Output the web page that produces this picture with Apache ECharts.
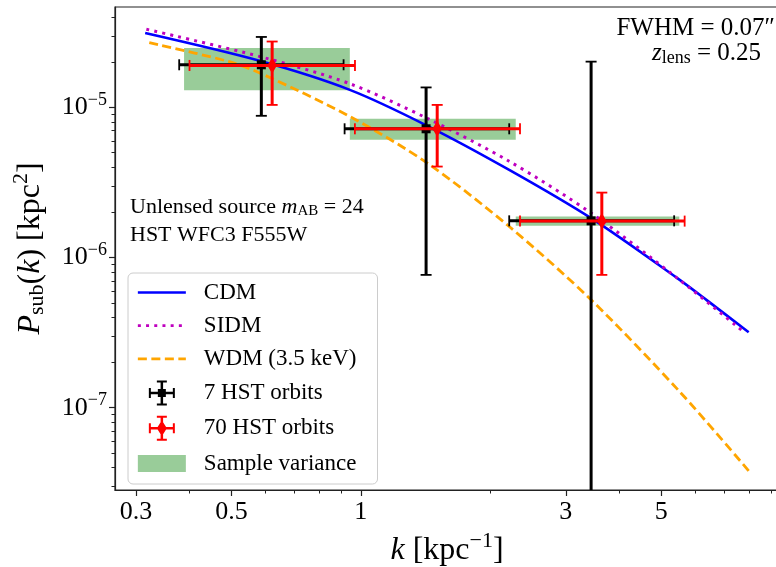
<!DOCTYPE html>
<html><head><meta charset="utf-8">
<script src="https://cdn.jsdelivr.net/npm/echarts@6/dist/echarts.min.js"></script>
<style>html,body{margin:0;padding:0;background:#fff}#c{width:776px;height:567px}</style>
</head><body><div id="c"></div><script>
// ---------- data ----------
const cdmK = [0.315, 0.587, 0.943, 1.428, 2.215, 3.435, 5.45, 6.37, 7.99];
const cdmP = [3.13e-5, 2.03e-5, 1.31e-5, 7.55e-6, 3.84e-6, 1.83e-6, 7.30e-7, 5.23e-7, 3.18e-7];
const sidmK = [0.317, 0.587, 0.943, 1.428, 2.215, 3.435, 5.45, 7.78];
const sidmP = [3.32e-5, 2.17e-5, 1.44e-5, 8.46e-6, 4.38e-6, 1.98e-6, 7.30e-7, 3.2e-7];
const wdmK = [0.322, 0.494, 0.587, 0.943, 1.428, 2.215, 3.435, 5.52, 7.99];
const wdmP = [2.70e-5, 2.02e-5, 1.68e-5, 8.71e-6, 4.26e-6, 1.61e-6, 5.23e-7, 1.28e-7, 3.80e-8];

// 7 HST orbits (black)
const hst7K = [0.587, 1.419, 3.435];
const hst7P = [1.925e-5, 7.21e-6, 1.757e-6];
const hst7KLo = [0.378, 0.917, 2.215];
const hst7KHi = [0.912, 2.215, 5.36];
const hst7PLo = [8.8e-6, 7.67e-7, 1e-9];
const hst7PHi = [2.95e-5, 1.36e-5, 2.02e-5];
// 70 HST orbits (red)
const hst70K = [0.622, 1.506, 3.638];
const hst70P = [1.905e-5, 7.21e-6, 1.75e-6];
const hst70KLo = [0.3995, 0.969, 2.347];
const hst70KHi = [0.9694, 2.347, 5.67];
const hst70PLo = [1.04e-5, 4.04e-6, 7.67e-7];
const hst70PHi = [2.75e-5, 1.04e-5, 2.71e-6];
// sample variance boxes
const svKLo = [0.388, 0.943, 2.294];
const svKHi = [0.943, 2.294, 5.51];
const svPLo = [1.30e-5, 6.09e-6, 1.627e-6];
const svPHi = [2.49e-5, 8.41e-6, 1.877e-6];

// ticks
const xMajorTicks = [0.3, 0.5, 1, 3, 5];
const xMinorTicks = [0.4, 0.6, 0.7, 0.8, 0.9, 2, 4, 6, 7, 8, 9];
const yMajorTicks = [1e-7, 1e-6, 1e-5];
const yMinorTicks = [3e-8, 4e-8, 5e-8, 6e-8, 7e-8, 8e-8, 9e-8,
  2e-7, 3e-7, 4e-7, 5e-7, 6e-7, 7e-7, 8e-7, 9e-7,
  2e-6, 3e-6, 4e-6, 5e-6, 6e-6, 7e-6, 8e-6, 9e-6,
  2e-5, 3e-5, 4e-5];
const xRange = [0.268, 9.4];
const yRange = [2.83e-8, 4.67e-5];

// ---------- chart ----------
const FONT = 'Liberation Serif';
const AX = '#222';
const pairs = (a, b) => a.map((v, i) => [v, b[i]]);
const rows = (...cols) => cols[0].map((_, i) => cols.map(c => c[i]));

function errRender(color, marker) {
  return function (params, api) {
    const cs = params.coordSys;
    const top = cs.y, bot = cs.y + cs.height;
    const x = api.value(0), y = api.value(1);
    const c = api.coord([x, y]);
    const xl = api.coord([api.value(2), y])[0];
    const xh = api.coord([api.value(3), y])[0];
    let yl = api.coord([x, api.value(4)])[1];
    let yh = api.coord([x, api.value(5)])[1];
    const lowClip = !(yl <= bot);
    if (lowClip) yl = bot;
    if (yh < top) yh = top;
    const lw = 3, cap = 5.5, cw = 1.8;
    const st = { stroke: color, lineWidth: lw };
    const cst = { stroke: color, lineWidth: cw };
    const ch = [
      { type: 'line', shape: { x1: xl, y1: c[1], x2: xh, y2: c[1] }, style: st },
      { type: 'line', shape: { x1: c[0], y1: yh, x2: c[0], y2: yl }, style: st },
      { type: 'line', shape: { x1: xl, y1: c[1] - cap, x2: xl, y2: c[1] + cap }, style: cst },
      { type: 'line', shape: { x1: xh, y1: c[1] - cap, x2: xh, y2: c[1] + cap }, style: cst },
      { type: 'line', shape: { x1: c[0] - cap, y1: yh, x2: c[0] + cap, y2: yh }, style: cst }
    ];
    if (!lowClip) ch.push({ type: 'line', shape: { x1: c[0] - cap, y1: yl, x2: c[0] + cap, y2: yl }, style: cst });
    if (marker === 'square') {
      ch.push({ type: 'rect', shape: { x: c[0] - 4.5, y: c[1] - 4.5, width: 9, height: 9 }, style: { fill: color } });
    } else {
      ch.push({ type: 'polygon', shape: { points: [[c[0], c[1] - 8], [c[0] + 4.8, c[1]], [c[0], c[1] + 8], [c[0] - 4.8, c[1]]] }, style: { fill: color } });
    }
    return { type: 'group', children: ch };
  };
}

function boxRender(params, api) {
  const p1 = api.coord([api.value(0), api.value(3)]);
  const p2 = api.coord([api.value(1), api.value(2)]);
  return { type: 'rect', shape: { x: p1[0], y: p1[1], width: p2[0] - p1[0], height: p2[1] - p1[1] }, style: { fill: '#99cc99' } };
}

const corners = 'M0,0h0.01v0.01h-0.01Z M47.99,24.99h0.01v0.01h-0.01Z ';
const iconCross = 'M11,11.25h26v2.5h-26Z M22.75,0h2.5v25h-2.5Z M11,7.5h2v10h-2Z M35,7.5h2v10h-2Z M19,0h10v2h-10Z M19,23h10v2h-10Z ';
const iconBlack = 'path://' + corners + iconCross + 'M20,8.5h8v8h-8Z';
const iconRed = 'path://' + corners + iconCross + 'M24,4.5L29,12.5L24,20.5L19,12.5Z';
const iconBox = 'path://' + corners + 'M0,4h48v17h-48Z';

function titleRich(fs) {
  const sfs = Math.round(fs * 0.7);
  return {
    n: { fontFamily: FONT, fontSize: fs, color: '#000' },
    i: { fontFamily: FONT, fontSize: fs, fontStyle: 'italic', color: '#000' },
    sub: { fontFamily: FONT, fontSize: sfs, color: '#000', padding: [Math.round(fs * 0.45), 0, 0, 0] },
    sup: { fontFamily: FONT, fontSize: sfs, color: '#000', padding: [0, 0, Math.round(fs * 0.58), 0] }
  };
}

const chart = echarts.init(document.getElementById('c'));
chart.setOption({
  animation: false,
  backgroundColor: '#fff',
  grid: { left: 115, top: 7, width: 664, height: 483, show: true, borderColor: AX, borderWidth: 1.2,
    backgroundColor: 'transparent', containLabel: false, outerBoundsMode: 'none' },
  xAxis: [
    {
      type: 'log', logBase: 10, min: xRange[0], max: xRange[1], position: 'bottom',
      splitLine: { show: false },
      axisLine: { show: true, lineStyle: { color: AX, width: 1.2 } },
      axisTick: { show: true, customValues: xMajorTicks, length: 6, lineStyle: { color: AX, width: 1.2 } },
      axisLabel: {
        customValues: xMajorTicks, margin: 9, fontFamily: FONT, fontSize: 26, color: '#000',
        formatter: v => String(+(+v).toPrecision(3))
      },
      name: '{i|k}{n| [kpc}{sup|−1}{n|]}', nameLocation: 'middle', nameGap: 38,
      nameTextStyle: { fontFamily: FONT, fontSize: 32, rich: titleRich(32) }
    },
    {
      type: 'log', logBase: 10, min: xRange[0], max: xRange[1], position: 'bottom',
      splitLine: { show: false }, axisLine: { show: false },
      axisTick: { show: true, customValues: xMinorTicks, length: 3.5, lineStyle: { color: AX, width: 1 } },
      axisLabel: { show: false }
    }
  ],
  yAxis: [
    {
      type: 'log', logBase: 10, min: yRange[0], max: yRange[1], position: 'left',
      splitLine: { show: false },
      axisLine: { show: true, lineStyle: { color: AX, width: 1.2 } },
      axisTick: { show: true, customValues: yMajorTicks, length: 6, lineStyle: { color: AX, width: 1.2 } },
      axisLabel: {
        customValues: yMajorTicks, margin: 8,
        formatter: v => '{b|10}{s|−' + Math.abs(Math.round(Math.log10(v))) + '}',
        rich: {
          b: { fontFamily: FONT, fontSize: 26, color: '#000', lineHeight: 30 },
          s: { fontFamily: FONT, fontSize: 18, color: '#000', lineHeight: 18, padding: [0, 0, 15, 0] }
        }
      },
      name: '{i|P}{sub|sub}{n|(}{i|k}{n|) [kpc}{sup|2}{n|]}', nameLocation: 'middle', nameRotate: 90, nameGap: 64,
      nameTextStyle: { fontFamily: FONT, fontSize: 32, rich: titleRich(32) }
    },
    {
      type: 'log', logBase: 10, min: yRange[0], max: yRange[1], position: 'left',
      splitLine: { show: false }, axisLine: { show: false },
      axisTick: { show: true, customValues: yMinorTicks, length: 3.5, lineStyle: { color: AX, width: 1 } },
      axisLabel: { show: false }
    }
  ],
  legend: {
    orient: 'vertical', left: 128, top: 273, itemWidth: 48, itemHeight: 25, itemGap: 10.2,
    padding: [8, 21, 8, 8.5], backgroundColor: 'rgba(255,255,255,0.8)', borderColor: '#cccccc',
    borderWidth: 1, borderRadius: 5, selectedMode: false,
    lineStyle: { width: 2.7 },
    textStyle: { fontFamily: FONT, fontSize: 23, color: '#000', padding: [0, 0, 0, 13] },
    data: [
      { name: 'CDM', itemStyle: { opacity: 0 } },
      { name: 'SIDM', itemStyle: { opacity: 0 } },
      { name: 'WDM (3.5 keV)', itemStyle: { opacity: 0 } },
      { name: '7 HST orbits', icon: iconBlack },
      { name: '70 HST orbits', icon: iconRed },
      { name: 'Sample variance', icon: iconBox }
    ]
  },
  graphic: [
    { type: 'text', z: 100, style: { text: 'FWHM = 0.07″', x: 775, y: 28, align: 'right', verticalAlign: 'middle', font: '25px "Liberation Serif"', fill: '#000' } },
    { type: 'text', z: 100, style: { text: '{i|z}{sub|lens}{n| = 0.25}', x: 761, y: 53, align: 'right', verticalAlign: 'middle',
      rich: { i: { font: 'italic 25px "Liberation Serif"' }, sub: { font: '18px "Liberation Serif"', padding: [10, 0, 0, 0] }, n: { font: '25px "Liberation Serif"' } } } },
    { type: 'text', z: 100, style: { text: 'Unlensed source {i|m}{sub|AB}{n| = 24}', x: 130, y: 207, align: 'left', verticalAlign: 'middle', font: '22px "Liberation Serif"',
      rich: { i: { font: 'italic 22px "Liberation Serif"' }, sub: { font: '15px "Liberation Serif"', padding: [9, 0, 0, 0] }, n: { font: '22px "Liberation Serif"' } } } },
    { type: 'text', z: 100, style: { text: 'HST WFC3 F555W', x: 130, y: 235, align: 'left', verticalAlign: 'middle', font: '22px "Liberation Serif"', fill: '#000' } }
  ],
  series: [
    { name: 'Sample variance', type: 'custom', z: 1, itemStyle: { color: '#99cc99' }, renderItem: boxRender,
      encode: { x: [0, 1], y: [2, 3] }, data: rows(svKLo, svKHi, svPLo, svPHi) },
    { name: 'CDM', type: 'line', z: 3, symbol: 'none', smooth: 0.3, data: pairs(cdmK, cdmP),
      lineStyle: { color: '#0000ff', width: 2.6 }, itemStyle: { color: '#0000ff' } },
    { name: 'SIDM', type: 'line', z: 3, symbol: 'none', smooth: 0.3, data: pairs(sidmK, sidmP),
      lineStyle: { color: '#bf00bf', width: 3, type: [3, 5.2] }, itemStyle: { color: '#bf00bf' } },
    { name: 'WDM (3.5 keV)', type: 'line', z: 3, symbol: 'none', smooth: 0.3, data: pairs(wdmK, wdmP),
      lineStyle: { color: '#ffa500', width: 2.8, type: [9, 4.5] }, itemStyle: { color: '#ffa500' } },
    { name: '7 HST orbits', type: 'custom', z: 4, itemStyle: { color: '#000' }, renderItem: errRender('#000', 'square'),
      encode: { x: 0, y: 1 }, data: rows(hst7K, hst7P, hst7KLo, hst7KHi, hst7PLo, hst7PHi) },
    { name: '70 HST orbits', type: 'custom', z: 5, itemStyle: { color: '#ff0000' }, renderItem: errRender('#ff0000', 'diamond'),
      encode: { x: 0, y: 1 }, data: rows(hst70K, hst70P, hst70KLo, hst70KHi, hst70PLo, hst70PHi) }
  ]
});
</script></body></html>
